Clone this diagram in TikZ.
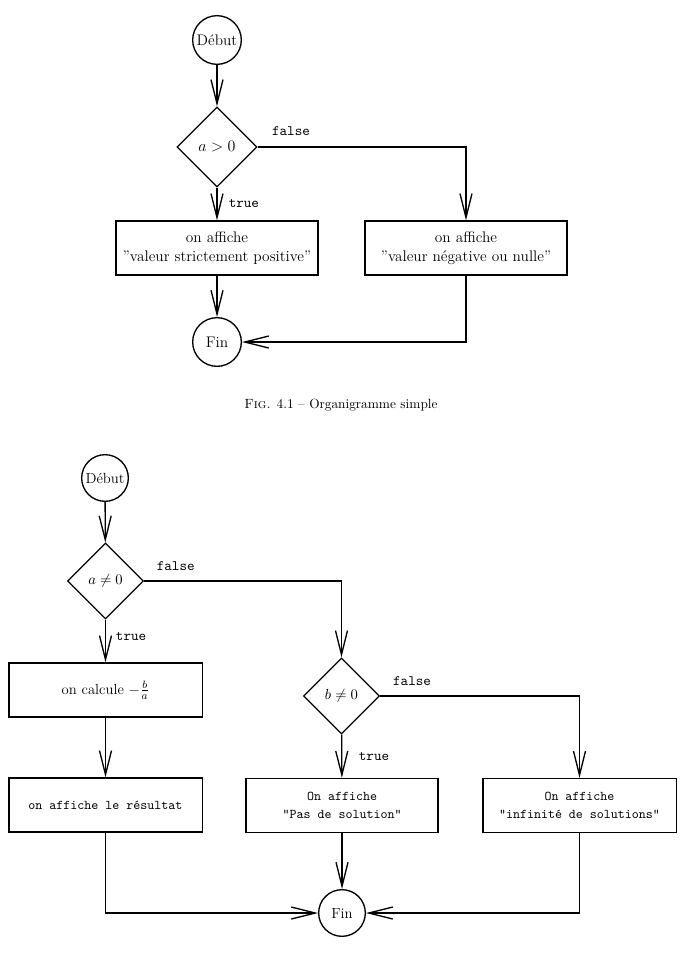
\documentclass[tikz,border=0pt]{standalone}
\usetikzlibrary{arrows.meta,shapes.geometric}

\tikzset{
  circ/.style={draw,circle,line width=1pt,minimum size=36.5pt,inner sep=1pt},
  decision/.style={draw,diamond,line width=1pt,minimum size=60pt,inner sep=1pt},
  box/.style={draw,rectangle,line width=1pt,minimum width=151.5pt,minimum height=40.5pt,align=center},
  arr/.style={line width=1pt,-{Straight Barb[length=18pt,width=9pt,line width=1pt]}},
  lbl/.style={font=\fontsize{10.8}{13}\selectfont\ttfamily},
  big/.style={font=\fontsize{11.5}{14}\selectfont},
  mid/.style={font=\fontsize{11}{13.5}\selectfont},
  code/.style={font=\fontsize{10}{13.5}\selectfont\ttfamily}
}

\begin{document}
\begin{tikzpicture}[x=0.75pt,y=-0.75pt]
    \useasboundingbox (0,0) rectangle (679,953);

    % First chart: sign of a.
    \node[circ,big] (debut1) at (217,40) {Début};
    \node[decision,big] (testa) at (217,147) {$a>0$};
    \node[box,big] (pos) at (217,248) {on affiche\\''valeur strictement positive''};
    \node[box,big] (neg) at (466,248) {on affiche\\''valeur négative ou nulle''};
    \node[circ,big] (fin1) at (217,342) {Fin};

    \draw[arr] (debut1) -- (testa);
    \draw[arr] (testa) -- node[lbl,right=5pt] {true} (pos);
    \draw[arr] (testa) -| node[lbl,pos=0.08,above=5pt] {false} (neg);
    \draw[arr] (pos) -- (fin1);
    \draw[arr] (neg) |- (fin1);

    \node (cap1) at (341,405) {\textsc{Fig.} 4.1 -- Organigramme simple};

    % Second chart: solving ax+b=0.
    \node[circ,mid,minimum size=35pt] (debut2) at (105,478) {Début};
    \node[decision,mid,minimum size=57pt] (testa2) at (105.5,581) {$a\neq0$};
    \node[box,mid,minimum width=145pt] (calc) at (105.5,690) {on calcule $-\frac{b}{a}$};
    \node[decision,mid,minimum size=57pt] (testb) at (341.5,696) {$b\neq0$};
    \node[box,code,minimum width=145pt] (res) at (105.5,805) {on affiche le résultat};
    \node[box,code,minimum width=144pt] (nosol) at (342,805.5) {On affiche\\"Pas de solution"};
    \node[box,code,minimum width=145pt] (inf) at (579.5,805.5) {On affiche\\"infinité de solutions"};
    \node[circ,mid,minimum size=35pt] (fin2) at (342,913) {Fin};

    \draw[arr] (debut2) -- (testa2);
    \draw[arr] (testa2) -- node[lbl,pos=0.4,right=4pt] {true} (calc);
    \draw[arr] (testa2) -| node[lbl,pos=0.08,above=4pt] {false} (testb);
    \draw[arr] (calc) -- (res);
    \draw[arr] (testb) -- node[lbl,right=9pt] {true} (nosol);
    \draw[arr] (testb) -| node[lbl,pos=0.08,above=4pt] {false} (inf);
    \draw[arr] (nosol) -- (fin2);
    \draw[arr] (res) |- (fin2);
    \draw[arr] (inf) |- (fin2);
\end{tikzpicture}
\end{document}
